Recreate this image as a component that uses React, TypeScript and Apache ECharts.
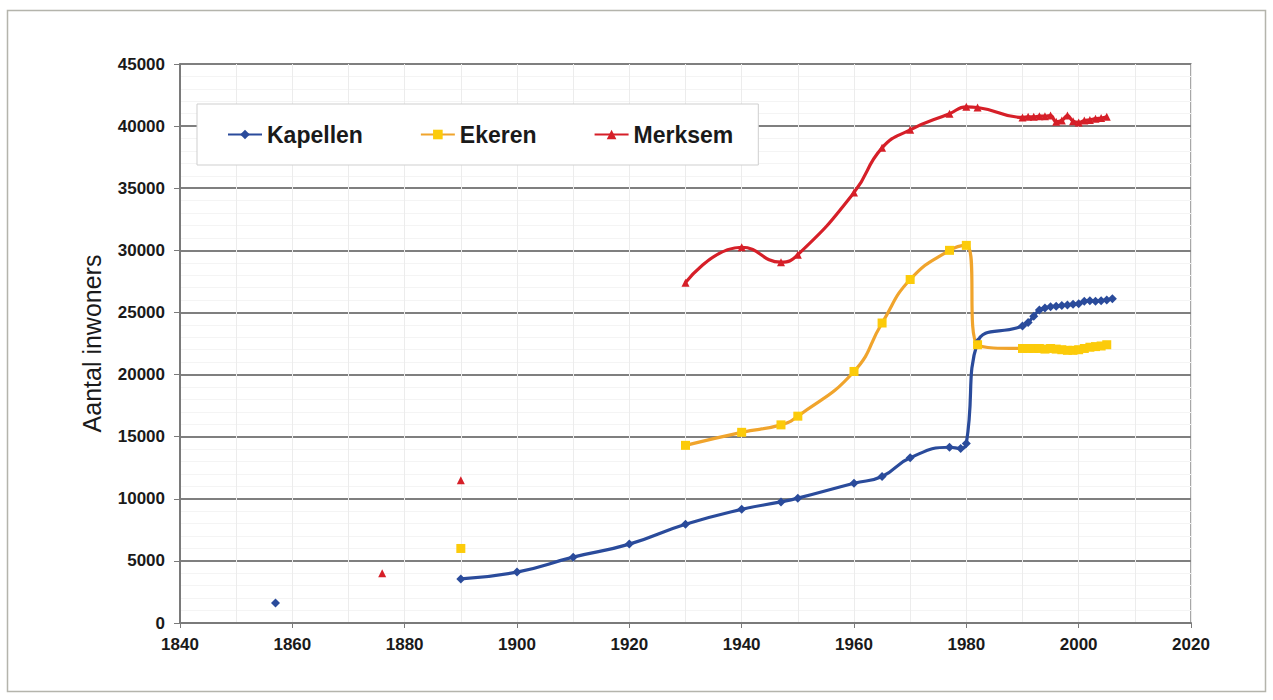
import React, { useEffect, useRef } from "react";
import * as echarts from "echarts";

const xTicks = [1840, 1860, 1880, 1900, 1920, 1940, 1960, 1980, 2000, 2020];
const yTicks = [0, 5000, 10000, 15000, 20000, 25000, 30000, 35000, 40000, 45000];

const kapellenYears = [1857, 1870, 1890, 1900, 1910, 1920, 1930, 1940, 1947, 1950, 1960, 1965, 1970, 1977, 1979, 1980, 1982, 1990, 1991, 1992, 1993, 1994, 1995, 1996, 1997, 1998, 1999, 2000, 2001, 2002, 2003, 2004, 2005, 2006];
const kapellenValues = [1600, null, 3550, 4100, 5300, 6350, 7950, 9150, 9750, 10050, 11250, 11800, 13300, 14150, 14050, 14450, 22600, 23900, 24200, 24700, 25200, 25350, 25450, 25500, 25550, 25600, 25650, 25700, 25900, 25950, 25900, 25950, 26000, 26100];

const ekerenYears = [1890, 1910, 1930, 1940, 1947, 1950, 1960, 1965, 1970, 1977, 1980, 1982, 1990, 1991, 1992, 1993, 1994, 1995, 1996, 1997, 1998, 1999, 2000, 2001, 2002, 2003, 2004, 2005];
const ekerenValues = [6000, null, 14300, 15350, 15950, 16650, 20250, 24150, 27650, 30000, 30400, 22400, 22100, 22100, 22100, 22100, 22050, 22100, 22050, 22000, 21950, 21950, 22000, 22100, 22200, 22250, 22300, 22400];

const merksemYears = [1876, 1880, 1890, 1910, 1930, 1940, 1947, 1950, 1960, 1965, 1970, 1977, 1980, 1982, 1990, 1991, 1992, 1993, 1994, 1995, 1996, 1997, 1998, 1999, 2000, 2001, 2002, 2003, 2004, 2005];
const merksemValues = [4000, null, 11500, null, 27400, 30250, 29050, 29650, 34650, 38250, 39700, 41000, 41550, 41500, 40700, 40750, 40750, 40800, 40800, 40850, 40350, 40450, 40850, 40400, 40300, 40450, 40500, 40600, 40650, 40750];

const FONT = "'Liberation Sans', Arial, sans-serif";

function pairs(xs: number[], vs: (number | null)[]) {
  return xs.map((x, i) => [x, vs[i] === null ? "-" : vs[i]]);
}

export default function App() {
  const ref = useRef<HTMLDivElement>(null);
  useEffect(() => {
    if (!ref.current) return;
    const chart = echarts.init(ref.current, null, { renderer: "svg" });
    const mkSeries = (name: string, data: any[], lineColor: string, markColor: string, symbol: string, size: number) => ({
      name,
      type: "line",
      data,
      smooth: 0.5,
      connectNulls: false,
      symbol,
      symbolSize: size,
      showSymbol: true,
      lineStyle: { color: lineColor, width: 3.2 },
      itemStyle: { color: markColor },
      z: 3,
    });
    chart.setOption({
      animation: false,
      backgroundColor: "#ffffff",
      textStyle: { fontFamily: FONT },
      graphic: [
        {
          type: "rect",
          shape: { x: 7.5, y: 10.5, width: 1258, height: 681 },
          style: { fill: "none", stroke: "#b4b4ac", lineWidth: 1.5 },
          z: -10,
          silent: true,
        },
      ],
      legend: {
        data: ["Kapellen", "Ekeren", "Merksem"],
        left: 197,
        top: 104,
        orient: "horizontal",
        itemWidth: 34,
        itemHeight: 12,
        itemGap: 57,
        padding: [19, 25, 19, 30],
        backgroundColor: "#ffffff",
        borderColor: "#cfcfcf",
        borderWidth: 1,
        textStyle: { fontFamily: FONT, fontSize: 23, fontWeight: "bold", color: "#1a1a1a" },
        z: 10,
      },
      grid: {
        left: 180,
        top: 64,
        width: 1011,
        height: 559,
        show: true,
        borderColor: "#8a8a8a",
        borderWidth: 1.5,
        backgroundColor: "transparent",
      },
      xAxis: {
        type: "value",
        min: xTicks[0],
        max: xTicks[xTicks.length - 1],
        interval: 20,
        axisLine: { show: true, lineStyle: { color: "#7a7a7a", width: 2 } },
        axisTick: { show: true, length: 5, lineStyle: { color: "#7a7a7a" } },
        axisLabel: {
          margin: 13,
          fontFamily: FONT,
          fontSize: 17,
          fontWeight: "bold",
          color: "#1a1a1a",
          formatter: (v: number) => (xTicks.includes(v) ? String(v) : ""),
        },
        splitLine: { show: true, lineStyle: { color: "#ececec", width: 1 } },
        minorTick: { show: false, splitNumber: 2 },
        minorSplitLine: { show: true, lineStyle: { color: "#ececec", width: 1 } },
      },
      yAxis: {
        type: "value",
        min: yTicks[0],
        max: yTicks[yTicks.length - 1],
        interval: 5000,
        name: "Aantal inwoners",
        nameLocation: "middle",
        nameGap: 76,
        nameTextStyle: { fontFamily: FONT, fontSize: 25, color: "#1a1a1a" },
        axisLine: { show: true, lineStyle: { color: "#7a7a7a", width: 2 } },
        axisTick: { show: true, length: 6, lineStyle: { color: "#7a7a7a" } },
        axisLabel: {
          margin: 15,
          fontFamily: FONT,
          fontSize: 17,
          fontWeight: "bold",
          color: "#1a1a1a",
          formatter: (v: number) => String(v),
        },
        splitLine: { show: true, lineStyle: { color: "#7f7f7f", width: 2 } },
        minorTick: { show: false, splitNumber: 5 },
        minorSplitLine: { show: true, lineStyle: { color: "#f4f4f4", width: 1 } },
      },
      series: [
        mkSeries("Kapellen", pairs(kapellenYears, kapellenValues), "#2a4b9b", "#2a4b9b", "diamond", 9),
        mkSeries("Ekeren", pairs(ekerenYears, ekerenValues), "#f0a42c", "#fccb0a", "rect", 9),
        mkSeries("Merksem", pairs(merksemYears, merksemValues), "#d61f28", "#d61f28", "triangle", 8),
      ],
    });
    return () => chart.dispose();
  }, []);
  return (
    <div
      ref={ref}
      style={{ position: "absolute", left: 0, top: 0, width: 1273, height: 700 }}
    />
  );
}
